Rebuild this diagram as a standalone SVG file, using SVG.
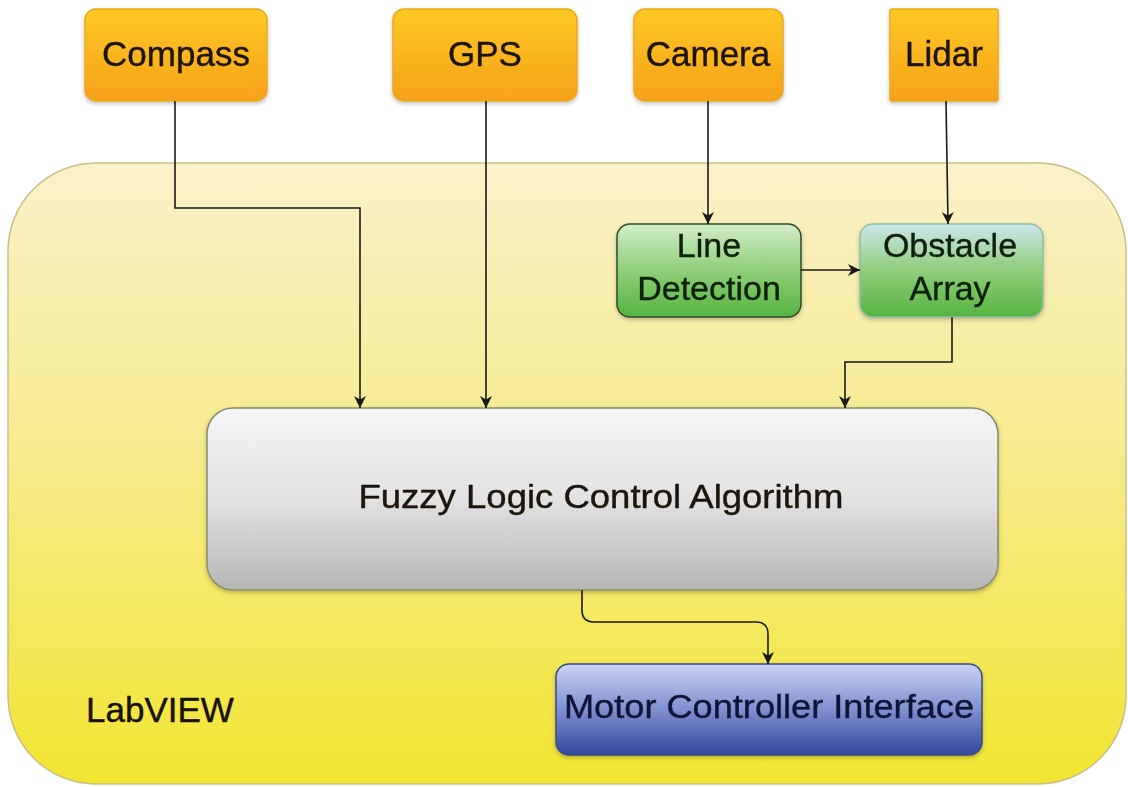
<svg xmlns="http://www.w3.org/2000/svg" width="1128" height="787" viewBox="0 0 1128 787">
<defs>
<linearGradient id="gOrange" x1="0" y1="0" x2="0" y2="1">
<stop offset="0" stop-color="#FDC824"/><stop offset="1" stop-color="#F6A21A"/>
</linearGradient>
<linearGradient id="gYellow" x1="0" y1="0" x2="0" y2="1">
<stop offset="0" stop-color="#FBF1CA"/><stop offset="0.45" stop-color="#F6EC90"/><stop offset="1" stop-color="#F2E632"/>
</linearGradient>
<linearGradient id="gGreen" x1="0" y1="0" x2="0" y2="1">
<stop offset="0" stop-color="#D2ECCB"/><stop offset="0.5" stop-color="#90CF78"/><stop offset="1" stop-color="#55B440"/>
</linearGradient>
<linearGradient id="gGreen2" x1="0" y1="0" x2="0" y2="1">
<stop offset="0" stop-color="#CDE7EC"/><stop offset="0.5" stop-color="#8FCD7A"/><stop offset="1" stop-color="#55B440"/>
</linearGradient>
<linearGradient id="gGray" x1="0" y1="0" x2="0" y2="1">
<stop offset="0" stop-color="#F6F6F6"/><stop offset="0.5" stop-color="#E2E2E2"/><stop offset="1" stop-color="#B6B6B6"/>
</linearGradient>
<linearGradient id="gBlue" x1="0" y1="0" x2="0" y2="1">
<stop offset="0" stop-color="#CCD4F4"/><stop offset="0.5" stop-color="#7F8FD0"/><stop offset="1" stop-color="#34479C"/>
</linearGradient>
<filter id="sh" x="-10%" y="-10%" width="120%" height="130%">
<feDropShadow dx="0" dy="2" stdDeviation="2" flood-color="#000" flood-opacity="0.25"/>
</filter>
<marker id="arr" viewBox="0 0 12 12" refX="12" refY="6" markerWidth="12" markerHeight="12" markerUnits="userSpaceOnUse" orient="auto">
<path d="M0,0 L12,6 L0,12 L3.5,6 z" fill="#1a1a1a"/>
</marker>
</defs>
<style>
.lbl{font-family:"Liberation Sans",Arial,sans-serif;fill:#1a1208;text-anchor:middle;stroke:#1a1208;stroke-width:0.4}
.top{font-size:35px}
.orange{fill:url(#gOrange);stroke:#E8AA20;stroke-width:1.5}
.conn{fill:none;stroke:#1a1a1a;stroke-width:1.6}
</style>
<rect width="1128" height="787" fill="#ffffff"/>

<g id="labview">
<rect x="8" y="163" width="1118" height="621" rx="88" ry="88" fill="url(#gYellow)" stroke="#C9BE86" stroke-width="1.5"/>
<text class="lbl" x="160" y="722" font-size="35">LabVIEW</text>
</g>

<g id="compass" filter="url(#sh)">
<rect class="orange" x="85" y="9" width="182" height="92" rx="11"/>
<text class="lbl top" x="176" y="66">Compass</text>
</g>
<g id="gps" filter="url(#sh)">
<rect class="orange" x="393" y="9" width="184" height="92" rx="11"/>
<text class="lbl top" x="485" y="66">GPS</text>
</g>
<g id="camera" filter="url(#sh)">
<rect class="orange" x="634" y="9" width="149" height="92" rx="11"/>
<text class="lbl top" x="708" y="66">Camera</text>
</g>
<g id="lidar" filter="url(#sh)">
<rect class="orange" x="890" y="9" width="108" height="92" rx="2"/>
<text class="lbl top" x="944" y="66">Lidar</text>
</g>

<g id="line-detection" filter="url(#sh)">
<rect x="617" y="224" width="184" height="93" rx="13" fill="url(#gGreen)" stroke="#2E4E28" stroke-width="1.5"/>
<text class="lbl" x="709" y="257" font-size="34" style="fill:#10200c;stroke:#10200c">Line</text>
<text class="lbl" x="709" y="300" font-size="34" style="fill:#10200c;stroke:#10200c">Detection</text>
</g>
<g id="obstacle-array" filter="url(#sh)">
<rect x="860" y="224" width="183" height="93" rx="13" fill="url(#gGreen2)" stroke="#8EBFA0" stroke-width="1.5"/>
<text class="lbl" x="950" y="257" font-size="34" style="fill:#10200c;stroke:#10200c">Obstacle</text>
<text class="lbl" x="950" y="300" font-size="34" style="fill:#10200c;stroke:#10200c">Array</text>
</g>

<g id="fuzzy" filter="url(#sh)">
<rect x="207" y="408" width="791" height="182" rx="26" fill="url(#gGray)" stroke="#8C8A6A" stroke-width="1.5"/>
<text class="lbl" x="601" y="508" font-size="33" textLength="485" lengthAdjust="spacingAndGlyphs">Fuzzy Logic Control Algorithm</text>
</g>

<g id="motor" filter="url(#sh)">
<rect x="556" y="664" width="426" height="91" rx="13" fill="url(#gBlue)" stroke="#3A4A8C" stroke-width="1.5"/>
<text class="lbl" x="769" y="718" font-size="33" style="fill:#0E1538;stroke:#0E1538" textLength="410" lengthAdjust="spacingAndGlyphs">Motor Controller Interface</text>
</g>

<g id="connectors">
<path class="conn" d="M175,101 V208 H360 V408" marker-end="url(#arr)"/>
<path class="conn" d="M486,101 V408" marker-end="url(#arr)"/>
<path class="conn" d="M708,101 V224" marker-end="url(#arr)"/>
<path class="conn" d="M946,101 L948,224" marker-end="url(#arr)"/>
<path class="conn" d="M801,270 H860" marker-end="url(#arr)"/>
<path class="conn" d="M952,317 V362 H845 V408" marker-end="url(#arr)"/>
<path class="conn" d="M582,590 V610 Q582,622 594,622 H756 Q768,622 768,634 V664" marker-end="url(#arr)"/>
</g>
</svg>
